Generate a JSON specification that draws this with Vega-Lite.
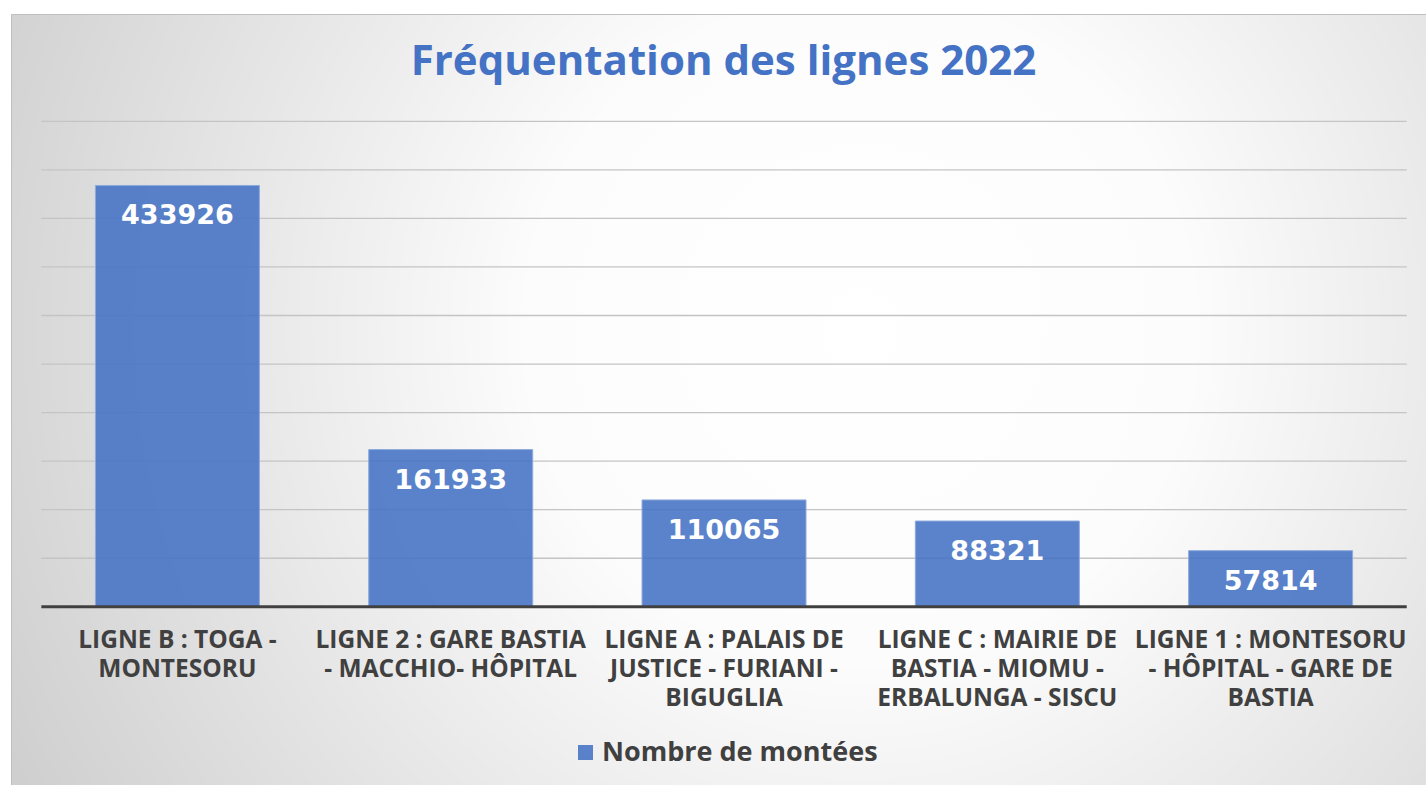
{
  "$schema": "https://vega.github.io/schema/vega-lite/v6.json",
  "width": 1415,
  "height": 771,
  "autosize": {"type": "none"},
  "padding": {"left": 11, "top": 14, "right": 0, "bottom": 0},
  "background": "#ffffff",
  "config": {
    "view": {
      "fill": {"gradient": "radial", "x1": 0.6, "y1": 0.45, "r1": 0, "x2": 0.6, "y2": 0.45, "r2": 0.78,
        "stops": [{"offset": 0, "color": "#ffffff"}, {"offset": 0.3, "color": "#fcfcfc"}, {"offset": 1, "color": "#c4c4c4"}]},
      "stroke": "#bfbfbf",
      "strokeWidth": 1
    },
    "font": "Open Sans"
  },
  "title": {
    "text": "Fréquentation des lignes 2022",
    "orient": "top",
    "anchor": "middle",
    "baseline": "alphabetic",
    "offset": -103,
    "dx": 5,
    "font": "Open Sans",
    "fontSize": 42,
    "fontWeight": "bold",
    "color": "#4472C4"
  },
  "datasets": {
    "lignes": [
      {"ligne": "LIGNE B : TOGA - MONTESORU", "montees": 433926},
      {"ligne": "LIGNE 2 : GARE BASTIA - MACCHIO- HÔPITAL", "montees": 161933},
      {"ligne": "LIGNE A : PALAIS DE JUSTICE - FURIANI - BIGUGLIA", "montees": 110065},
      {"ligne": "LIGNE C : MAIRIE DE BASTIA - MIOMU - ERBALUNGA - SISCU", "montees": 88321},
      {"ligne": "LIGNE 1 : MONTESORU - HÔPITAL - GARE DE BASTIA", "montees": 57814}
    ],
    "grille": [
      {"g": 0}, {"g": 50000}, {"g": 100000}, {"g": 150000}, {"g": 200000}, {"g": 250000},
      {"g": 300000}, {"g": 350000}, {"g": 400000}, {"g": 450000}, {"g": 500000}
    ]
  },
  "layer": [
    {
      "data": {"name": "grille"},
      "transform": [{"filter": "datum.g > 0"}],
      "mark": {"type": "rule", "color": "#c4c4c4", "strokeWidth": 1.3},
      "encoding": {
        "y": {"field": "g", "type": "quantitative", "axis": null,
          "scale": {"domain": [-183522, 610505], "nice": false, "zero": false}},
        "x": {"datum": "LIGNE B : TOGA - MONTESORU", "type": "nominal", "bandPosition": -0.33, "title": null},
        "x2": {"datum": "LIGNE 1 : MONTESORU - HÔPITAL - GARE DE BASTIA", "bandPosition": 1.33}
      }
    },
    {
      "data": {"name": "lignes"},
      "mark": {"type": "bar", "fillOpacity": 0.88, "stroke": "#8eaadb", "strokeWidth": 1},
      "encoding": {
        "x": {
          "field": "ligne", "type": "nominal", "sort": null, "title": null,
          "scale": {
            "domain": [
              "LIGNE B : TOGA - MONTESORU",
              "LIGNE 2 : GARE BASTIA - MACCHIO- HÔPITAL",
              "LIGNE A : PALAIS DE JUSTICE - FURIANI - BIGUGLIA",
              "LIGNE C : MAIRIE DE BASTIA - MIOMU - ERBALUNGA - SISCU",
              "LIGNE 1 : MONTESORU - HÔPITAL - GARE DE BASTIA"
            ],
            "paddingInner": 0.4, "paddingOuter": 0.2887, "align": 0.535, "round": false
          },
          "axis": {
            "title": null, "orient": "bottom", "offset": -179, "domain": false, "ticks": false, "tickSize": 0,
            "grid": false, "labelAngle": 0, "labelAlign": "center", "labelPadding": 22, "labelFont": "Open Sans", "labelFontSize": 24.5,
            "labelFontWeight": "bold", "labelColor": "#404040", "labelLineHeight": 29, "labelLimit": 0,
            "labelBaseline": "top",
            "labelExpr": "datum.value == 'LIGNE B : TOGA - MONTESORU' ? ['LIGNE B : TOGA -', 'MONTESORU'] : datum.value == 'LIGNE 2 : GARE BASTIA - MACCHIO- HÔPITAL' ? ['LIGNE 2 : GARE BASTIA', '- MACCHIO- HÔPITAL'] : datum.value == 'LIGNE A : PALAIS DE JUSTICE - FURIANI - BIGUGLIA' ? ['LIGNE A : PALAIS DE', 'JUSTICE - FURIANI -', 'BIGUGLIA'] : datum.value == 'LIGNE C : MAIRIE DE BASTIA - MIOMU - ERBALUNGA - SISCU' ? ['LIGNE C : MAIRIE DE', 'BASTIA - MIOMU -', 'ERBALUNGA - SISCU'] : ['LIGNE 1 : MONTESORU', '- HÔPITAL - GARE DE', 'BASTIA']"
          }
        },
        "y": {"field": "montees", "type": "quantitative", "axis": null},
        "color": {
          "datum": "Nombre de montées",
          "scale": {"range": ["#4472C4"]},
          "legend": {
            "orient": "none", "legendX": 561, "legendY": 725, "direction": "horizontal", "title": null,
            "padding": 0, "symbolType": "square", "symbolSize": 225, "symbolStrokeWidth": 0, "symbolOpacity": 0.88,
            "labelFont": "Open Sans", "labelFontSize": 27, "labelFontWeight": "bold", "labelColor": "#404040",
            "labelOffset": 3, "labelLimit": 0
          }
        }
      }
    },
    {
      "data": {"name": "lignes"},
      "mark": {"type": "text", "font": "DejaVu Sans", "fontWeight": "bold", "fontSize": 27, "color": "#ffffff",
        "baseline": "middle", "align": "center", "dy": 31},
      "encoding": {
        "x": {"field": "ligne", "type": "nominal", "title": null},
        "y": {"field": "montees", "type": "quantitative", "axis": null},
        "text": {"field": "montees", "type": "quantitative", "format": "d"}
      }
    },
    {
      "data": {"name": "grille"},
      "transform": [{"filter": "datum.g == 0"}],
      "mark": {"type": "rule", "color": "#404040", "strokeWidth": 3},
      "encoding": {
        "y": {"field": "g", "type": "quantitative", "axis": null},
        "x": {"datum": "LIGNE B : TOGA - MONTESORU", "type": "nominal", "bandPosition": -0.33, "title": null},
        "x2": {"datum": "LIGNE 1 : MONTESORU - HÔPITAL - GARE DE BASTIA", "bandPosition": 1.33}
      }
    }
  ]
}
